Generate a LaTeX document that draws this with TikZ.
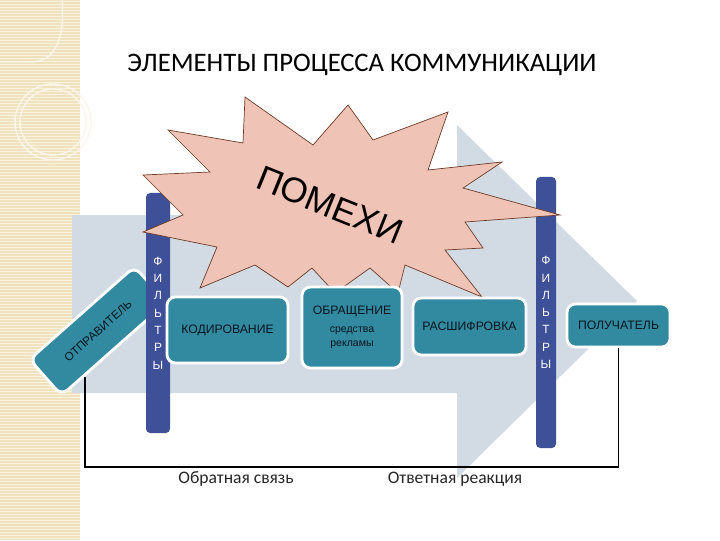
\documentclass[tikz,border=0pt]{standalone}
\usepackage{fontspec}
\setmainfont{Liberation Sans}
\newfontfamily\titlefont{Carlito}
\usetikzlibrary{positioning,calc}

\definecolor{stripbeige}{RGB}{240,226,188}
\definecolor{arrowblue}{RGB}{210,219,227}
\definecolor{boxteal}{RGB}{50,138,160}
\definecolor{filterblue}{RGB}{62,80,152}
\definecolor{noisepink}{RGB}{239,196,182}
\definecolor{noiseedge}{RGB}{110,60,40}
\definecolor{boxtext}{RGB}{10,20,30}

\tikzset{
  stagebox/.style={draw=white, line width=2pt, fill=boxteal, text=boxtext, rounded corners=6,
    align=center, inner sep=0pt, font=\fontsize{8.7}{10}\selectfont},
  filterbar/.style={fill=filterblue, rounded corners=3, text=white, align=center,
    inner sep=0pt, font=\fontsize{8.5}{12.3}\selectfont},
  feedback/.style={black, line width=1.1},
}

\begin{document}
\begin{tikzpicture}[x=0.025cm, y=-0.025cm]
\useasboundingbox (0,0) rectangle (720,540);

% left strip
\fill[stripbeige] (0,0) rectangle (80,540);
\foreach \yy in {1,4,...,540}
  \draw[white!55!stripbeige, line width=0.4] (0,\yy) -- (80,\yy);
\draw[white!70!stripbeige, line width=1] (53,122) circle (38);
\draw[white!70!stripbeige, line width=1] (53,122) circle (33);
\draw[white!70!stripbeige, line width=1] (0,62) -- (30,62) .. controls (55,62) and (65,40) .. (62,0);

% big arrow
\fill[arrowblue] (72,215) -- (457,215) -- (457,125) -- (637,301) -- (457,478)
  -- (457,393) -- (72,393) -- cycle;

\node[stagebox, rotate=41.5, minimum width=3.5cm, minimum height=1.2cm,
  font=\fontsize{8.3}{10}\selectfont] (otpr) at (98,331) {ОТПРАВИТЕЛЬ};

\node[filterbar, minimum width=0.6cm, minimum height=6cm] (filt1) at (158,313)
  {Ф\\И\\Л\\Ь\\Т\\Р\\Ы};
\node[filterbar, minimum width=0.5cm, minimum height=6.775cm] (filt2) at (546,312.5)
  {Ф\\И\\Л\\Ь\\Т\\Р\\Ы};

% noise
\filldraw[fill=noisepink, draw=noiseedge, line width=0.5]
  (168,130) -- (243,143) -- (245,97) -- (313,145) -- (348,105) -- (373,140)
  -- (448,112) -- (428,170) -- (502,162) -- (463,188) -- (560,215) -- (465,222)
  -- (483,248) -- (445,250) -- (482,297) -- (405,265) -- (398,293) -- (370,268)
  -- (335,293) -- (312,268) -- (288,287) -- (255,265) -- (200,288) -- (217,247)
  -- (143,232) -- (183,215) -- (143,175) -- (210,172) -- cycle;
\node[rotate=-22, font=\fontsize{25}{25}\selectfont] (noise) at (330,205) {ПОМЕХИ};

\node[stagebox, minimum width=3.025cm, minimum height=1.65cm] (kod) at (227.5,330)
  {КОДИРОВАНИЕ};
\node[stagebox, minimum width=2.5cm, minimum height=2.025cm] (obr) at (352,327.5)
  {ОБРАЩЕНИЕ\\[3pt]\fontsize{7.5}{10}\selectfont средства\\\fontsize{7.5}{10}\selectfont рекламы};
\node[stagebox, minimum width=2.825cm, minimum height=1.425cm] (ras) at (469.5,326.5)
  {РАСШИФРОВКА};
\node[stagebox, minimum width=2.575cm, minimum height=1.075cm] (pol) at (618.5,325.5)
  {ПОЛУЧАТЕЛЬ};

\node[font=\titlefont\fontsize{19}{20}\selectfont] (title) at (362,65)
  {ЭЛЕМЕНТЫ ПРОЦЕССА КОММУНИКАЦИИ};

% feedback loop
\coordinate (fbstart) at ($(otpr.south)!0.56!(otpr.south west)$);
\coordinate (fbcorner) at (pol.south |- 0,467);
\draw[feedback] (fbstart) |- (fbcorner) -- (pol.south);

\node[font=\titlefont\fontsize{12.5}{14}\selectfont, text=black!85] (fbtext) at (236,479)
  {Обратная связь};
\node[font=\titlefont\fontsize{12.5}{14}\selectfont, text=black!85] (resptext) at (455,479)
  {Ответная реакция};
\end{tikzpicture}
\end{document}
